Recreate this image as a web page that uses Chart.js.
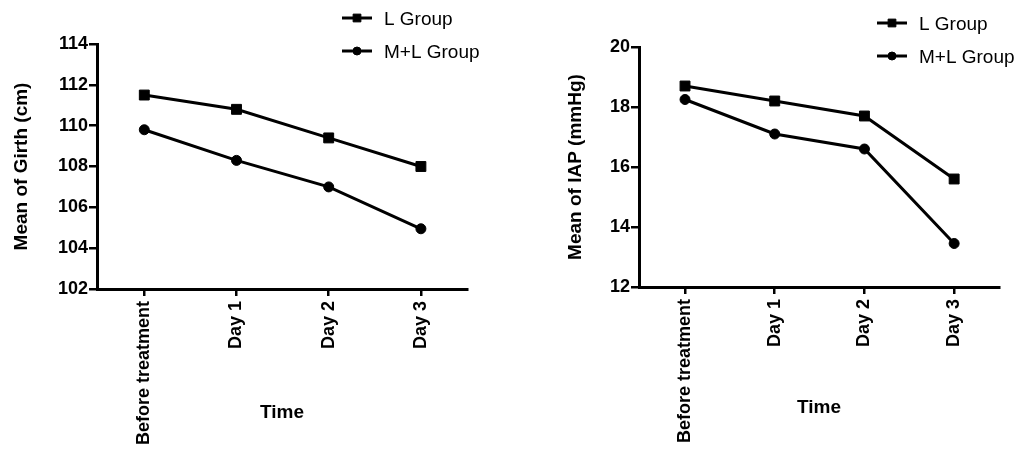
<!DOCTYPE html>
<html>
<head>
<meta charset="utf-8">
<script src="https://cdn.jsdelivr.net/npm/chart.js@4.4.1/dist/chart.umd.min.js"></script>
<style>
  html, body { margin: 0; padding: 0; background: #fff; }
  .box { position: absolute; top: 0; width: 511px; height: 460px; }
</style>
</head>
<body>
<div class="box" style="left:0"><canvas id="girth" width="511" height="460"></canvas></div>
<div class="box" style="left:511px"><canvas id="iap" width="511" height="460"></canvas></div>
<script>
// values
const categories = ['Before treatment', 'Day 1', 'Day 2', 'Day 3'];
const seriesNames = ['L Group', 'M+L Group'];
const girthL = [111.5, 110.8, 109.4, 108.0];
const girthML = [109.8, 108.3, 107.0, 104.95];
const iapL = [18.7, 18.2, 17.7, 15.6];
const iapML = [18.25, 17.1, 16.6, 13.45];

const FONT = '"Liberation Sans", Arial, sans-serif';

// legend: short line with the marker in the middle, then the name
const lineLegend = {
    id: 'lineLegend',
    afterDraw(chart, args, opts) {
        const ctx = chart.ctx;
        chart.data.datasets.forEach((ds, i) => {
            const y = opts.y + i * opts.gap;
            ctx.save();
            ctx.strokeStyle = '#000';
            ctx.fillStyle = '#000';
            ctx.lineWidth = 3;
            ctx.beginPath();
            ctx.moveTo(opts.x, y);
            ctx.lineTo(opts.x + 30, y);
            ctx.stroke();
            ctx.lineWidth = 1;
            Chart.helpers.drawPoint(ctx, {
                pointStyle: ds.pointStyle,
                radius: ds.pointStyle === 'rect' ? 5.5 : 4,
                borderWidth: 1
            }, opts.x + 15, y);
            ctx.font = '19px ' + FONT;
            ctx.textBaseline = 'middle';
            ctx.fillText(ds.label, opts.x + 42, y + 1.5);
            ctx.restore();
        });
    }
};

function series(values) {
    return values.map((v, i) => ({ x: i, y: v }));
}

function makeChart(id, cfg) {
    const ctx = document.getElementById(id);
    return new Chart(ctx, {
        type: 'line',
        data: {
            datasets: [
                {
                    label: seriesNames[0],
                    data: series(cfg.l),
                    pointStyle: 'rect',
                    pointRadius: 7,
                    borderColor: '#000',
                    backgroundColor: '#000',
                    borderWidth: 3,
                    pointBorderWidth: 1
                },
                {
                    label: seriesNames[1],
                    data: series(cfg.ml),
                    pointStyle: 'circle',
                    pointRadius: 5,
                    borderColor: '#000',
                    backgroundColor: '#000',
                    borderWidth: 3,
                    pointBorderWidth: 1
                }
            ]
        },
        options: {
            responsive: false,
            animation: false,
            layout: { padding: cfg.padding },
            elements: { line: { tension: 0 } },
            plugins: {
                legend: { display: false },
                tooltip: { enabled: false },
                lineLegend: cfg.legend
            },
            scales: {
                x: {
                    type: 'linear',
                    min: -0.513,
                    max: 3.5,
                    afterBuildTicks: s => { s.ticks = categories.map((c, i) => ({ value: i })); },
                    afterFit: s => { s.height = cfg.xHeight; },
                    border: { color: '#000', width: 3 },
                    grid: { drawOnChartArea: false, color: '#000', lineWidth: 2.5, tickLength: 7 },
                    ticks: {
                        minRotation: 90,
                        maxRotation: 90,
                        padding: 5,
                        color: '#000',
                        font: { family: FONT, size: 18, weight: 'bold' },
                        callback: v => categories[v]
                    },
                    title: {
                        display: true,
                        text: 'Time',
                        color: '#000',
                        font: { family: FONT, size: 19, weight: 'bold', lineHeight: 1 },
                        padding: { top: 0, bottom: cfg.xTitlePad }
                    }
                },
                y: {
                    min: cfg.min,
                    max: cfg.max,
                    afterFit: s => { s.width = cfg.yWidth; },
                    border: { color: '#000', width: 3 },
                    grid: { drawOnChartArea: false, color: '#000', lineWidth: 2.5, tickLength: 8 },
                    ticks: {
                        stepSize: 2,
                        padding: 1,
                        color: '#000',
                        font: { family: FONT, size: 18, weight: 'bold' }
                    },
                    title: {
                        display: true,
                        text: cfg.yTitle,
                        color: '#000',
                        font: { family: FONT, size: 19, weight: 'bold', lineHeight: 1 },
                        padding: { top: cfg.yTitlePad, bottom: 0 }
                    }
                }
            }
        },
        plugins: [lineLegend]
    });
}

makeChart('girth', {
    l: girthL, ml: girthML, min: 102, max: 114,
    yTitle: 'Mean of Girth (cm)',
    padding: { left: 0, top: 44, right: 44, bottom: 0 },
    yWidth: 97, xHeight: 171,
    yTitlePad: 12.5, xTitlePad: 37.5,
    legend: { x: 342, y: 18, gap: 33 }
});

makeChart('iap', {
    l: iapL, ml: iapML, min: 12, max: 20,
    yTitle: 'Mean of IAP (mmHg)',
    padding: { left: 0, top: 47, right: 23, bottom: 0 },
    yWidth: 128, xHeight: 173,
    yTitlePad: 55.5, xTitlePad: 42.5,
    legend: { x: 366, y: 23, gap: 33 }
});
</script>
</body>
</html>
